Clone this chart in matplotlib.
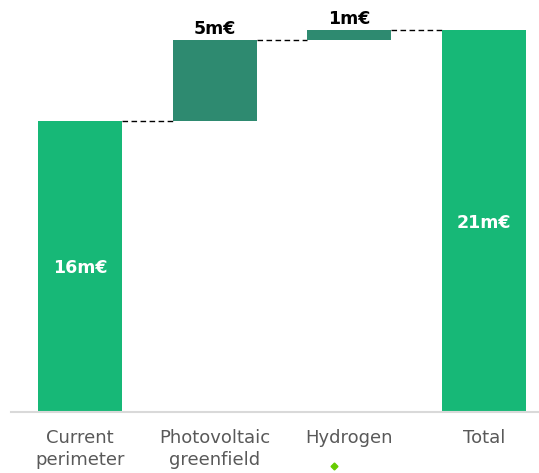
import matplotlib
matplotlib.use("Agg")
import matplotlib.pyplot as plt
import numpy as np

categories = ["Current\nperimeter", "Photovoltaic\ngreenfield", "Hydrogen", "Total"]
values = [16.0, 4.45, 0.55, 21.0]
value_labels = ["16m€", "5m€", "1m€", "21m€"]
is_total = [True, False, False, True]

light_green = "#17B877"
dark_green = "#2E8A70"

fig = plt.figure(figsize=(5.39, 4.73), dpi=100)
ax = fig.add_axes([11/539, 1 - 412/473, 528/539, 412/473])

x = np.arange(len(categories))
width = 0.627
bottoms = []
cum = 0.0
for i, (v, tot) in enumerate(zip(values, is_total)):
    if tot:
        b = 0.0
        cum = v
    else:
        b = cum
        cum += v
    bottoms.append(b)

colors = [light_green if t else dark_green for t in is_total]
ax.bar(x, values, width, bottom=bottoms, color=colors, zorder=2)

# connectors
tops = [b + v for b, v in zip(bottoms, values)]
for i in range(len(categories) - 1):
    ax.plot([x[i] + width/2, x[i+1] - width/2], [tops[i], tops[i]],
            color="black", lw=1, ls=(0, (4, 2.5)), zorder=1)

# labels
for i, (lab, tot) in enumerate(zip(value_labels, is_total)):
    if tot:
        ax.text(x[i], values[i] * 0.495, lab,
                ha="center", va="center", color="white", fontsize=12.5, fontweight="bold")
    else:
        ax.text(x[i], tops[i] + 0.15, lab, ha="center", va="bottom",
                color="black", fontsize=12.5, fontweight="bold")

ax.set_xlim(-0.515, 3.41)
ax.set_ylim(0, 412/18.17)
ax.set_xticks(x)
ax.set_xticklabels(categories, fontsize=13, color="#595959", linespacing=1.3)
ax.tick_params(axis="x", length=0, pad=12)
ax.set_yticks([])
for s in ["top", "right", "left"]:
    ax.spines[s].set_visible(False)
ax.spines["bottom"].set_color("#D9D9D9")
ax.spines["bottom"].set_linewidth(1.5)

# small green mark under "Hydrogen"
fig.add_artist(plt.Line2D([334/539], [1 - 466/473], marker="D", markersize=3.5,
                          color="#66CC00", transform=fig.transFigure))

fig.savefig("out.png", dpi=100)
